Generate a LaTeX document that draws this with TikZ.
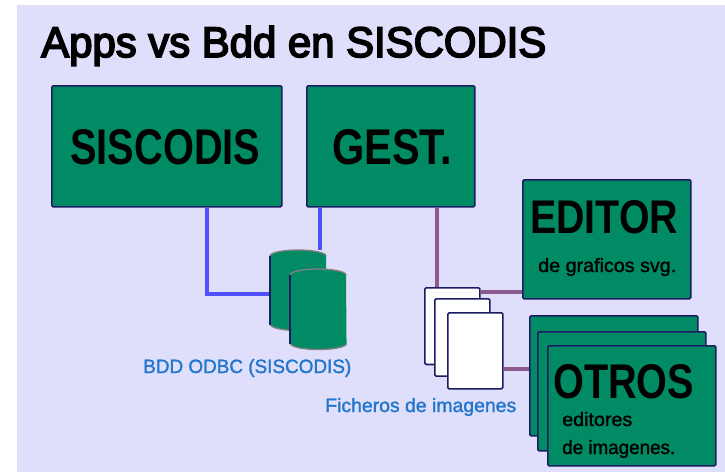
\documentclass[tikz,border=0pt]{standalone}
\usepackage{fontspec}
\usepackage{graphicx}
\setmainfont{Liberation Sans}
\newfontfamily\semi[FakeBold=4]{Liberation Sans}
\newfontfamily\semismall[FakeBold=1.5]{Liberation Sans}
\usetikzlibrary{calc}
\definecolor{bgc}{HTML}{E0DFFB}
\definecolor{boxg}{HTML}{008B65}
\definecolor{edgec}{HTML}{1C1C64}
\definecolor{bluel}{HTML}{5050FF}
\definecolor{purpl}{HTML}{8B5A8F}
\definecolor{labc}{HTML}{2277CC}
\newcommand{\fit}[3]{\resizebox{\dimexpr #1pt*3/4\relax}{\dimexpr #2pt*3/4\relax}{#3}}
\tikzset{
  x=0.75pt,y=-0.75pt,
  gbox/.style={draw=edgec,line width=1.2pt,fill=boxg,rounded corners=1pt,inner sep=0pt,anchor=north west},
  page/.style={draw=edgec,line width=1.2pt,fill=white,rounded corners=1pt,inner sep=0pt,anchor=north west,minimum width=41.25pt,minimum height=57.5pt},
  bluewire/.style={draw=bluel,line width=3pt},
  purwire/.style={draw=purpl,line width=3pt},
  lbl/.style={inner sep=0pt,anchor=base west,text=black},
  caption/.style={inner sep=0pt,anchor=base west,text=labc},
  cylbody/.style={inner sep=0pt,anchor=north west,minimum width=42pt,minimum height=60pt}
}
\newcommand{\cyl}[1]{%
  \fill[boxg] ($(#1.north west)+(0,6)$) arc[start angle=180,end angle=0,x radius=21pt,y radius=4.5pt]
    -- ($(#1.south east)+(0,-6)$) arc[start angle=360,end angle=180,x radius=21pt,y radius=4.5pt] -- cycle;
  \draw[gray,line width=1pt] ($(#1.north west)+(0,6)$) arc[start angle=180,end angle=0,x radius=21pt,y radius=4.5pt];
  \draw[gray,line width=1pt] ($(#1.south east)+(0,-6)$) arc[start angle=360,end angle=180,x radius=21pt,y radius=4.5pt];
  \draw[edgec,line width=1pt] ($(#1.north west)+(0,6)$) -- ($(#1.south west)+(0,-6)$);
}
\begin{document}
\begin{tikzpicture}
\useasboundingbox (0,0) rectangle (725,472);
\fill[white] (0,0) rectangle (725,472);
\fill[bgc] (17,5) rectangle (725,472);
\node[lbl] (title) at (41,57) {\fit{505}{31}{\semi Apps vs Bdd en SISCODIS}};
\node[gbox,minimum width=172.5pt,minimum height=90.75pt] (sis) at (51,85) {};
\node[gbox,minimum width=126pt,minimum height=90.75pt] (gest) at (306,85) {};
\node[gbox,minimum width=126pt,minimum height=89.25pt] (edit) at (522,179) {};
\node[page] (p1) at (424,287) {};
\node[cylbody] (cyla) at (270,250) {};
\node[cylbody] (cylb) at (290,269) {};
\coordinate (j1) at (207,294);
\coordinate (j2) at (320,240);
\coordinate (j3) at (437,240);
\coordinate (j4) at (500,292);
\coordinate (j5) at (515,369);
\draw[bluewire] (sis.south -| j1) -- (j1) -- (j1 -| cyla.west);
\draw[bluewire] (gest.south -| j2) -- (j2 |- cyla.north);
\draw[purwire] (gest.south -| j3) -- (j3 |- p1.north);
\draw[purwire] (p1.east |- j4) -- (edit.west |- j4);
\node[gbox,minimum width=126pt,minimum height=90pt] (ot1) at (529,315) {};
\node[gbox,minimum width=126pt,minimum height=89.25pt] (ot2) at (537,331) {};
\node[gbox,minimum width=126pt,minimum height=90pt] (ot3) at (547,345) {};
\node[page,minimum height=58pt] (p2) at (434,298) {};
\node[page,minimum height=57pt] (p3) at (447,312) {};
\draw[purwire] (p3.east |- j5) -- (ot1.west |- j5);
\cyl{cyla}
\cyl{cylb}
\node[lbl] (t1) at (70,164) {\fit{190}{35}{\textbf{SISCODIS}}};
\node[lbl] (t2) at (332,164) {\fit{120}{35}{\textbf{GEST.}}};
\node[lbl] (t3) at (530,233) {\fit{148}{33}{\textbf{EDITOR}}};
\node[lbl] (t4) at (538,272) {\fit{138}{14}{\semismall de graficos svg.}};
\node[lbl] (t5) at (553,398) {\fit{141}{34}{\textbf{OTROS}}};
\node[lbl] (t6) at (562,426) {\fit{70}{14}{\semismall editores}};
\node[lbl] (t7) at (562,454) {\fit{113}{14}{\semismall de imagenes.}};
\node[caption] (c1) at (143,373) {\fit{208}{14}{\semismall BDD ODBC (SISCODIS)}};
\node[caption] (c2) at (325,412) {\fit{191}{14}{\semismall Ficheros de imagenes}};
\end{tikzpicture}
\end{document}
